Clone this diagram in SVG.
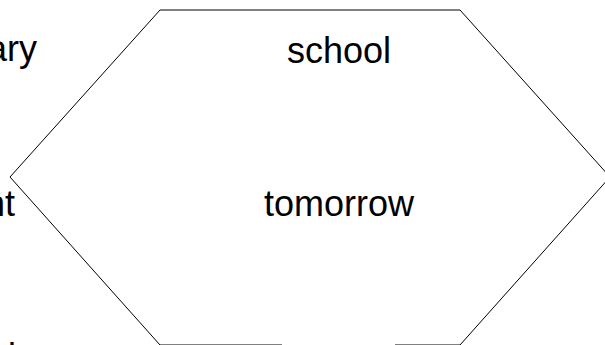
<svg xmlns="http://www.w3.org/2000/svg" width="605" height="345" viewBox="0 0 605 345">
<style>
.lbl{font-family:"Liberation Sans",Arial,sans-serif;font-size:36px;fill:#000}
.edge{stroke:#000;stroke-width:1;fill:none}
</style>
<rect width="605" height="345" fill="#fff"/>
<g id="node-hex">
<polyline class="edge" points="282,345 160,345 10,177 160,10 460,10 610,177 460,345 395,345"/>
<text class="lbl" x="339" y="63" text-anchor="middle">school</text>
<text class="lbl" x="339" y="216" text-anchor="middle">tomorrow</text>
</g>
<g id="node-left1"><text class="lbl" x="37" y="61" text-anchor="end">ary</text></g>
<g id="node-left2"><text class="lbl" x="15" y="216" text-anchor="end">nt</text></g>
<g id="node-left3"><text class="lbl" x="8" y="369">i</text></g>
<g id="connectors"></g>
</svg>
